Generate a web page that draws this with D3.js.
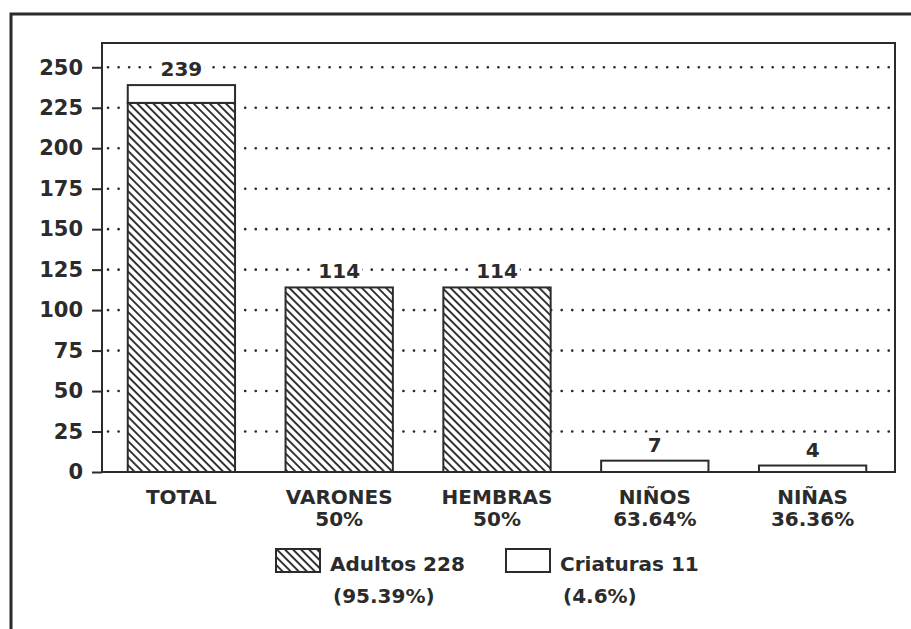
<!DOCTYPE html>
<html>
<head>
<meta charset="utf-8">
<script src="https://cdn.jsdelivr.net/npm/d3@7"></script>
<style>
  body { margin: 0; background: #fff; }
  text { font-family: "DejaVu Sans", sans-serif; font-weight: bold; fill: #2b2b2b; }
</style>
</head>
<body>
<script>
const categories = ["TOTAL", "VARONES", "HEMBRAS", "NIÑOS", "NIÑAS"]
const percentLabels = ["", "50%", "50%", "63.64%", "36.36%"]
const adultos = [228, 114, 114, 0, 0]
const criaturas = [11, 0, 0, 7, 4]
const yTicks = [0, 25, 50, 75, 100, 125, 150, 175, 200, 225, 250]
const legendNames = ["Adultos 228", "Criaturas 11"]
const legendPercents = ["(95.39%)", "(4.6%)"]

const width = 911, height = 629
const ink = '#2b2b2b'
const plot = {left: 102, right: 895, top: 43, bottom: 472}

const svg = d3.select('body').append('svg')
    .attr('width', width)
    .attr('height', height)

// diagonal hatch for the adults
const defs = svg.append('defs')
defs.append('pattern')
    .attr('id', 'hatch')
    .attr('patternUnits', 'userSpaceOnUse')
    .attr('width', 5.7)
    .attr('height', 5.7)
    .attr('patternTransform', 'rotate(-45)')
  .append('line')
    .attr('x1', 1).attr('y1', 0)
    .attr('x2', 1).attr('y2', 5.7)
    .attr('stroke', ink)
    .attr('stroke-width', 1.9)

// outer frame of the page
svg.append('rect')
    .attr('x', 11).attr('y', 14)
    .attr('width', 940).attr('height', 640)
    .attr('fill', 'none')
    .attr('stroke', ink)
    .attr('stroke-width', 3)

const rows = categories.map((c, i) => ({cat: c, adultos: adultos[i], criaturas: criaturas[i]}))

const xScale = d3.scaleBand()
    .domain(categories)
    .range([102.5, 891.5])
    .paddingInner(0.32)
    .paddingOuter(0.16)

const yScale = d3.scaleLinear()
    .domain([0, 265])
    .range([plot.bottom, plot.top])

// dotted grid lines
svg.append('g')
    .selectAll('line')
    .data(yTicks.filter(d => d > 0))
    .enter()
    .append('line')
        .attr('x1', plot.left + 6)
        .attr('x2', plot.right)
        .attr('y1', d => yScale(d))
        .attr('y2', d => yScale(d))
        .attr('stroke', ink)
        .attr('stroke-width', 2.6)
        .attr('stroke-linecap', 'round')
        .attr('stroke-dasharray', '0.1 10.45')

// stacked bars
const stack = d3.stack().keys(['adultos', 'criaturas'])(rows)
const fills = {adultos: 'url(#hatch)', criaturas: '#fff'}

svg.append('g')
    .selectAll('g')
    .data(stack)
    .enter()
    .append('g')
    .selectAll('rect')
    .data(s => s.map(d => ({key: s.key, d: d})))
    .enter()
    .filter(o => o.d[1] > o.d[0])
    .append('rect')
        .attr('x', o => xScale(o.d.data.cat))
        .attr('width', xScale.bandwidth())
        .attr('y', o => yScale(o.d[1]))
        .attr('height', o => yScale(o.d[0]) - yScale(o.d[1]))
        .attr('fill', '#fff')
        .attr('stroke', 'none')

svg.append('g')
    .selectAll('g')
    .data(stack)
    .enter()
    .append('g')
    .selectAll('rect')
    .data(s => s.map(d => ({key: s.key, d: d})))
    .enter()
    .filter(o => o.d[1] > o.d[0])
    .append('rect')
        .attr('x', o => xScale(o.d.data.cat))
        .attr('width', xScale.bandwidth())
        .attr('y', o => yScale(o.d[1]))
        .attr('height', o => yScale(o.d[0]) - yScale(o.d[1]))
        .attr('fill', o => fills[o.key])
        .attr('stroke', ink)
        .attr('stroke-width', 2)

// value labels above bars, with a white patch over the dots
const valueG = svg.append('g')
rows.forEach(r => {
    const total = r.adultos + r.criaturas
    const cx = xScale(r.cat) + xScale.bandwidth() / 2
    const yBase = yScale(total) - 9
    const t = valueG.append('text')
        .attr('x', cx)
        .attr('y', yBase)
        .attr('text-anchor', 'middle')
        .style('font-size', '20px')
        .text(total)
    const bb = t.node().getBBox()
    valueG.insert('rect', 'text')
        .attr('x', bb.x - 2).attr('y', bb.y)
        .attr('width', bb.width + 4).attr('height', bb.height)
        .attr('fill', '#fff')
})

// plot frame
svg.append('rect')
    .attr('x', plot.left).attr('y', plot.top)
    .attr('width', plot.right - plot.left)
    .attr('height', plot.bottom - plot.top)
    .attr('fill', 'none')
    .attr('stroke', ink)
    .attr('stroke-width', 2)

// y axis
const yAxis = svg.append('g')
    .attr('transform', 'translate(' + plot.left + ',0)')
    .call(d3.axisLeft(yScale).tickValues(yTicks).tickSize(10).tickPadding(9))
yAxis.select('.domain').remove()
yAxis.selectAll('.tick line').attr('stroke', ink).attr('stroke-width', 2)
yAxis.selectAll('.tick text')
    .attr('fill', ink)
    .style('font-family', '"DejaVu Sans", sans-serif')
    .style('font-weight', 'bold')
    .style('font-size', '21px')

// category labels
const catG = svg.append('g')
categories.forEach((c, i) => {
    const cx = xScale(c) + xScale.bandwidth() / 2
    catG.append('text')
        .attr('x', cx).attr('y', 504)
        .attr('text-anchor', 'middle')
        .style('font-size', '20px')
        .text(c)
    if (percentLabels[i]) {
        catG.append('text')
            .attr('x', cx).attr('y', 526)
            .attr('text-anchor', 'middle')
            .style('font-size', '20px')
            .text(percentLabels[i])
    }
})

// legend
const legendX = [276, 506]
const legendFill = ['url(#hatch)', '#fff']
const legend = svg.append('g')
legendNames.forEach((name, i) => {
    legend.append('rect')
        .attr('x', legendX[i]).attr('y', 549)
        .attr('width', 44).attr('height', 23)
        .attr('fill', legendFill[i])
        .attr('stroke', ink)
        .attr('stroke-width', 2)
    legend.append('text')
        .attr('x', legendX[i] + 54).attr('y', 571)
        .style('font-size', '20px')
        .text(name)
    legend.append('text')
        .attr('x', legendX[i] + 57).attr('y', 603)
        .style('font-size', '20px')
        .text(legendPercents[i])
})
</script>
</body>
</html>
